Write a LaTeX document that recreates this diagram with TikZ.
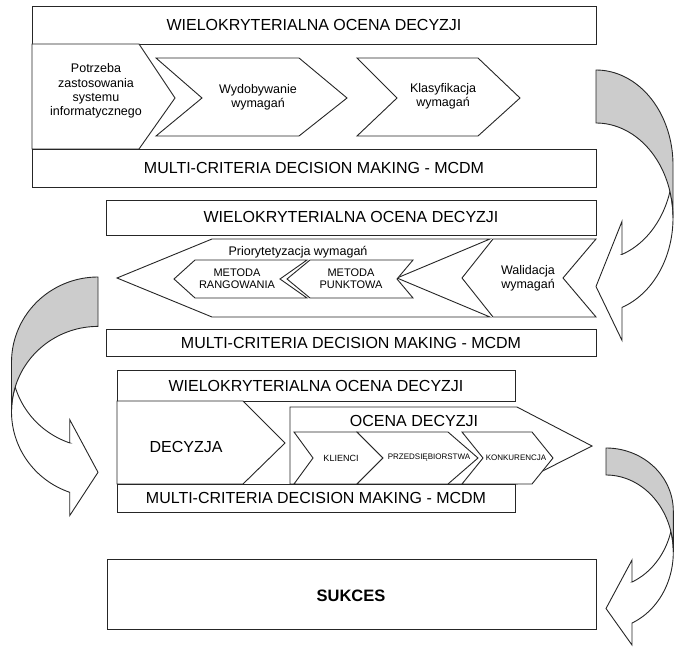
\documentclass[tikz,border=0pt]{standalone}
\usepackage{fontspec}
\setmainfont{Liberation Sans}

% curved band arrow: [#1 drop of the back top], #2 placement, #3 width,
% #4 arc half height, #5 band thickness, #6 head length, #7 barb size
\newcommand{\bentarrow}[7][0]{%
  \begin{scope}[#2]
    \pgfmathsetmacro{\alp}{acos(#6/#3)}
    \pgfmathsetmacro{\bet}{asin(#5/(2*#4))}
    \pgfmathsetmacro{\yup}{#4+#4*sin(\alp)}
    \pgfmathsetmacro{\ylow}{\yup+#5}
    \pgfmathsetmacro{\ytip}{2*#4+#5/2}
    % front part with head
    \filldraw[arrowface] (#6,\yup-#7) -- (#6,\yup)
      -- plot[domain=\alp:\bet, samples=40] ({#3*cos(\x)},{#4+#4*sin(\x)})
      -- plot[domain=-\bet:\alp, samples=40] ({#3*cos(\x)},{#4+#5+#4*sin(\x)})
      -- (#6,\ylow+#7) -- (0,\ytip) -- cycle;
    % shaded back part
    \filldraw[arrowback] (0,#1)
      -- plot[domain=-90:0, samples=40] ({#3*cos(\x)},{#4+(#4-#1)*sin(\x)})
      -- plot[domain=0:-90, samples=40] ({#3*cos(\x)},{#4+#5+#4*sin(\x)})
      -- cycle;
  \end{scope}}

\tikzset{
  blockbox/.style={draw=black!85, line width=0.9pt, fill=white, line join=miter},
  arrowface/.style={draw=black!85, line width=0.9pt, fill=white},
  arrowback/.style={draw=black!85, line width=0.9pt, fill=black!20},
  headtxt/.style={font=\fontsize{16}{19}\selectfont},
  bodytxt/.style={font=\fontsize{12.5}{14.2}\selectfont, align=center},
  methtxt/.style={font=\fontsize{11}{12}\selectfont, align=center},
  smalltxt/.style={font=\fontsize{8}{9}\selectfont},
}

\begin{document}
\begin{tikzpicture}[x=1pt, y=-1pt]
\useasboundingbox (0,0) rectangle (674,647);

% ---- First block ----
\draw[blockbox] (32,6) rectangle (596,44);
\node[headtxt] (hdrA) at (314,25) {WIELOKRYTERIALNA OCENA DECYZJI};

\draw[blockbox] (32,44) -- (139,44) -- (175,98) -- (139,149) -- (32,149) -- cycle;
\node[bodytxt] (need) at (96,91) {Potrzeba\\zastosowania\\systemu\\informatycznego};

\draw[blockbox] (156,58) -- (299,58) -- (347,98) -- (299,136) -- (156,136) -- (202,98) -- cycle;
\node[bodytxt] (extract) at (258,97) {Wydobywanie\\wymagań};

\draw[blockbox] (357,58) -- (478,58) -- (520,98) -- (478,136) -- (357,136) -- (397,98) -- cycle;
\node[bodytxt] (classify) at (443,96) {Klasyfikacja\\wymagań};

\draw[blockbox] (32,149) rectangle (596,187);
\node[headtxt] (mcdmA) at (314,168) {MULTI-CRITERIA DECISION MAKING - MCDM};

% ---- Second block ----
\draw[blockbox] (106,200) rectangle (596,235);
\node[headtxt] (hdrB) at (351,217) {WIELOKRYTERIALNA OCENA DECYZJI};

\draw[blockbox] (117,278) -- (212,239) -- (490,239) -- (397,278) -- (490,317) -- (212,317) -- cycle;
\node[bodytxt] (prior) at (298,252) {Priorytetyzacja wymagań};

\draw[blockbox] (174,279) -- (195,260) -- (307,260) -- (280,279) -- (307,298) -- (195,298) -- cycle;
\node[methtxt] (rank) at (237,279) {METODA\\RANGOWANIA};

\draw[blockbox] (287,279) -- (310,260) -- (413,260) -- (397,279) -- (413,298) -- (310,298) -- cycle;
\node[methtxt] (points) at (351,279) {METODA\\PUNKTOWA};

\draw[blockbox] (462,278) -- (493,239) -- (596,239) -- (563,278) -- (596,317) -- (493,317) -- cycle;
\node[bodytxt] (valid) at (528,278) {Walidacja\\wymagań};

\draw[blockbox] (106,329) rectangle (596,356);
\node[headtxt] (mcdmB) at (351,342.5) {MULTI-CRITERIA DECISION MAKING - MCDM};

% ---- Third block ----
\draw[blockbox] (117,370) rectangle (515,401);
\node[headtxt] (hdrC) at (316,385.5) {WIELOKRYTERIALNA OCENA DECYZJI};

\draw[blockbox] (117,401) -- (243,401) -- (285,443) -- (243,484) -- (117,484) -- cycle;
\node[headtxt] (decision) at (186,447) {DECYZJA};

\draw[blockbox] (290,407) -- (517,407) -- (592,446) -- (517,484) -- (290,484) -- cycle;
\node[headtxt] (assess) at (414,421) {OCENA DECYZJI};

\draw[blockbox] (294,432) -- (357,432) -- (383,458) -- (357,484) -- (294,484) -- (313,458) -- cycle;
\node[smalltxt, font=\fontsize{9}{10}\selectfont] (clients) at (341,458) {KLIENCI};

\draw[blockbox] (357,432) -- (448,432) -- (478,458) -- (448,484) -- (357,484) -- (383,458) -- cycle;
\node[smalltxt] (firms) at (429,458) {PRZEDSIĘBIORSTWA};

\draw[blockbox] (462,432) -- (532,432) -- (553,458) -- (532,484) -- (462,484) -- (483,458) -- cycle;
\node[smalltxt] (rivals) at (516,458) {KONKURENCJA};

\draw[blockbox] (117,484) rectangle (515,512);
\node[headtxt] (mcdmC) at (316,498) {MULTI-CRITERIA DECISION MAKING - MCDM};

% ---- Result ----
\draw[blockbox] (107,559) rectangle (596,629);
\node[headtxt, font=\bfseries\fontsize{16.5}{19}\selectfont] (success) at (351,596) {SUKCES};

% ---- Curved arrows between blocks ----
\bentarrow{shift={(596,70)}}{77}{95}{53}{26}{33}
\bentarrow{shift={(98,277)}, xscale=-1}{86.5}{85.3}{49.4}{28.3}{23.3}
\bentarrow[14]{shift={(606,434)}}{67.3}{77}{41}{26}{22}

\end{tikzpicture}
\end{document}
